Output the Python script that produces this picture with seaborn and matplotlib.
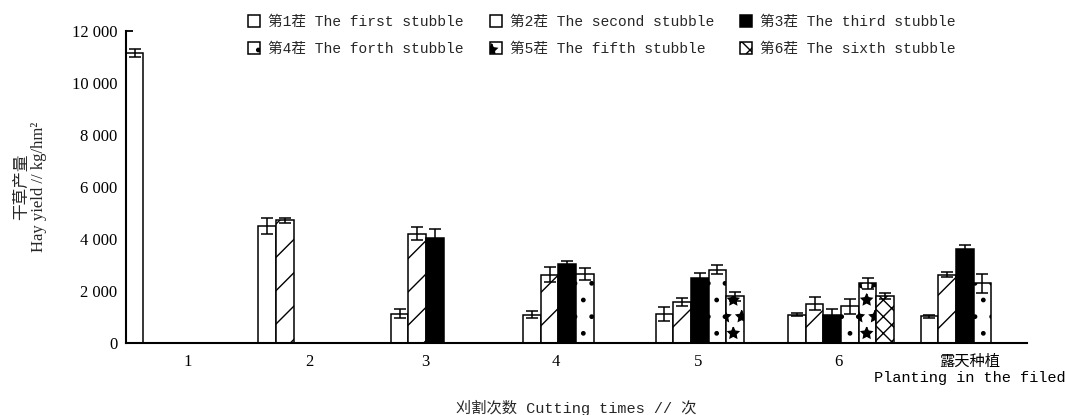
import numpy as np
import pandas as pd
import seaborn as sns
import matplotlib.pyplot as plt
from matplotlib.container import BarContainer

# Hay yield (kg/hm²) by cutting time and stubble, with standard deviations
cuts = ['1', '2', '3', '4', '5', '6', '露天种植\nPlanting in the filed']
stubbles = ['第1茬 The first stubble', '第2茬 The second stubble', '第3茬 The third stubble',
            '第4茬 The forth stubble', '第5茬 The fifth stubble', '第6茬 The sixth stubble']
nan = np.nan
yield_s1 = [11150, 4500, 1140, 1100, 1130, 1100, 1040]
yield_s2 = [nan, 4720, 4210, 2630, 1580, 1520, 2630]
yield_s3 = [nan, nan, 4040, 3030, 2520, 1090, 3620]
yield_s4 = [nan, nan, nan, 2670, 2830, 1410, 2300]
yield_s5 = [nan, nan, nan, nan, 1800, 2310, nan]
yield_s6 = [nan, nan, nan, nan, nan, 1810, nan]
sd_s1 = [150, 320, 180, 120, 270, 50, 60]
sd_s2 = [nan, 100, 250, 280, 150, 250, 100]
sd_s3 = [nan, nan, 350, 110, 180, 240, 140]
sd_s4 = [nan, nan, nan, 230, 190, 290, 370]
sd_s5 = [nan, nan, nan, nan, 170, 210, nan]
sd_s6 = [nan, nan, nan, nan, nan, 115, nan]

yields = [yield_s1, yield_s2, yield_s3, yield_s4, yield_s5, yield_s6]
sds = [sd_s1, sd_s2, sd_s3, sd_s4, sd_s5, sd_s6]

rows = []
for s, ys, es in zip(stubbles, yields, sds):
    for c, y, e in zip(cuts, ys, es):
        rows.append({'cut': c, 'stubble': s, 'yield': y, 'sd': e})
df = pd.DataFrame(rows)

sns.set_theme(style='ticks')
plt.rcParams['font.family'] = ['Liberation Serif', 'Noto Sans CJK SC']
plt.rcParams['hatch.linewidth'] = 1.0
plt.rcParams['hatch.color'] = 'black'

fills = {s: 'white' for s in stubbles}
fills[stubbles[2]] = 'black'
hatches = ['', '/', '', '.', '*', 'xx']

fig = plt.figure(figsize=(10.65, 4.15), dpi=100)
ax = fig.add_axes([0.118, 0.173, 0.846, 0.753])

sns.barplot(data=df, x='cut', y='yield', hue='stubble', order=cuts, hue_order=stubbles,
            errorbar=None, width=0.8, palette=fills, saturation=1,
            edgecolor='black', linewidth=1.1, legend=False, ax=ax)

# Hatch each stubble's bars and add its error bars
bar_sets = [c for c in ax.containers if isinstance(c, BarContainer)]
handles = []
for k, cont in enumerate(bar_sets):
    xs, ys, es = [], [], []
    for p in cont.patches:
        p.set_hatch(hatches[k])
        p.set_edgecolor('black')
        xc = p.get_x() + p.get_width() / 2
        i = int(round(xc))
        xs.append(xc)
        ys.append(yields[k][i])
        es.append(sds[k][i])
    ax.errorbar(xs, ys, yerr=es, fmt='none', ecolor='black', elinewidth=1.1,
                capsize=4, capthick=1.1, zorder=5)
    handles.append(cont.patches[0])

ax.set_xlim(-0.4, 6.4)
ax.set_ylim(0, 12000)
yt = np.arange(0, 12001, 2000)
ax.set_yticks(yt)
ax.set_yticklabels(['0' if v == 0 else f'{v // 1000} {v % 1000:03d}' for v in yt], fontsize=12)
ax.tick_params(axis='y', direction='in', length=5, width=1.3, pad=6, colors='black')

xtick_pos = [0.07, 0.99, 1.86, 2.85, 3.92, 4.98, 5.97]
ax.set_xticks(xtick_pos)
ax.set_xticklabels(cuts, fontsize=12)
ax.tick_params(axis='x', length=0, pad=8, colors='black')
last = ax.get_xticklabels()[-1]
last.set_family(['Liberation Mono', 'Noto Sans CJK SC'])
last.set_fontsize(11)
last.set_linespacing(1.2)

sns.despine(ax=ax)
for side in ['left', 'bottom']:
    ax.spines[side].set_linewidth(1.5)
    ax.spines[side].set_color('black')

ax.set_ylabel('干草产量\nHay yield // kg/hm²', fontsize=12, linespacing=1.1)
ax.yaxis.set_label_coords(-0.087, 0.5)
ax.set_xlabel('刈割次数 Cutting times // 次', fontsize=11,
              family=['Liberation Mono', 'Noto Sans CJK SC'])
ax.xaxis.set_label_coords(0.5, -0.18)

order = [0, 3, 1, 4, 2, 5]
fig.legend([handles[i] for i in order], [stubbles[i] for i in order],
           ncol=3, loc='upper left', bbox_to_anchor=(248 / 1065, 1 - 15 / 415),
           frameon=False, borderpad=0, borderaxespad=0,
           handlelength=0.82, handleheight=0.82, handletextpad=0.55,
           columnspacing=1.8, labelspacing=0.9,
           prop={'family': ['Liberation Mono', 'Noto Sans CJK SC'], 'size': 10.5})

fig.savefig('out.png', dpi=100)
